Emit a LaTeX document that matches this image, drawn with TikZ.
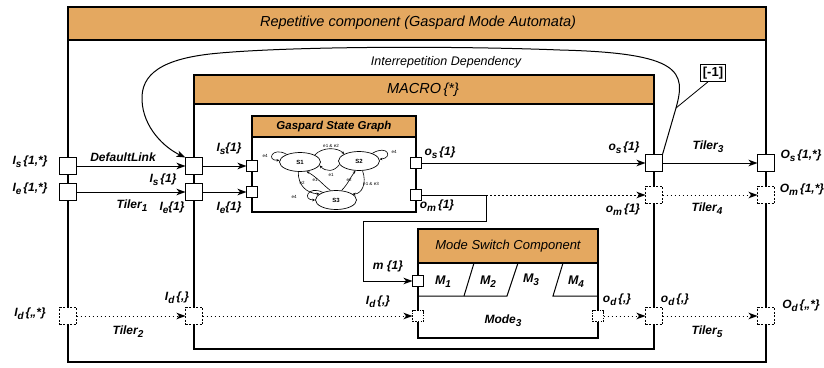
\documentclass[tikz,border=0pt]{standalone}
\usepackage{fontspec}
\setmainfont{Liberation Sans}
\usetikzlibrary{shapes.geometric,arrows.meta}
\definecolor{hdr}{RGB}{228,168,96}
\newcommand\sbs[1]{\raisebox{-0.45ex}{\fontsize{10}{10}\selectfont #1}}
\begin{document}
\begin{tikzpicture}[x=1pt,y=-1pt,
  box/.style={draw, line width=1.1pt},
  hd/.style={draw, line width=1.1pt, fill=hdr},
  bport/.style={draw, fill=white, line width=0.8pt, minimum size=17pt, inner sep=0pt, outer sep=0pt},
  bdport/.style={bport, dash pattern=on 2pt off 1.5pt},
  sport/.style={bport, minimum size=11pt},
  sdport/.style={sport, dash pattern=on 1.5pt off 1.2pt},
  arr/.style={line width=1pt, -{Stealth[length=9pt,width=6.5pt,inset=2.5pt]}},
  darr/.style={arr, dash pattern=on 1.5pt off 2.5pt},
  ln/.style={line width=1pt},
  lbl/.style={font=\fontsize{12}{14}\selectfont\bfseries\itshape, inner sep=0pt},
  mlbl/.style={font=\fontsize{12.5}{14}\selectfont\bfseries\itshape, inner sep=0pt},
  st/.style={ellipse, draw, line width=0.7pt, minimum width=41pt, minimum height=19pt, inner sep=0pt, font=\fontsize{6}{7}\selectfont\bfseries},
  sga/.style={line width=0.6pt, -{Stealth[length=3pt,width=2.5pt]}},
  tinyl/.style={font=\fontsize{4.5}{5}\selectfont, inner sep=0pt}
]
\useasboundingbox (0,0) rectangle (824,367);

% outer box
\draw[box] (68,7) rectangle (766,362);
\draw[hd] (68,7) rectangle (766,40);
\node[font=\fontsize{14.5}{16}\selectfont\itshape] (ttl) at (418,23) {Repetitive component (Gaspard Mode Automata)};

% MACRO box
\draw[box] (194,75) rectangle (654,349);
\draw[hd] (194,75) rectangle (654,104);
\node[font=\fontsize{14.5}{16}\selectfont\itshape] (mac) at (423,90) {MACRO\,\{*\}};

% Gaspard state graph
\draw[box] (252,116) rectangle (416,212);
\draw[hd] (252,116) rectangle (416,137);
\node[font=\fontsize{11.5}{13}\selectfont\bfseries\itshape] (gsg) at (334,127) {Gaspard State Graph};

% Mode switch component
\draw[box] (418,229) rectangle (598,338);
\draw[hd] (418,229) rectangle (598,263);
\node[font=\fontsize{13}{15}\selectfont\itshape] (msc) at (508,246) {Mode Switch Component};
\draw[ln] (474,263) -- (464,296);
\draw[ln] (418,296) -- (507,296) -- (518,263);
\draw[ln] (563,263) -- (553,296) -- (598,296);
\node[mlbl] (m1) at (443,282) {M\sbs{1}};
\node[mlbl] (m2) at (488,282) {M\sbs{2}};
\node[mlbl] (m3) at (531,280) {M\sbs{3}};
\node[mlbl] (m4) at (576,282) {M\sbs{4}};
\node[lbl] (mode) at (503,321) {Mode\sbs{3}};

% state graph content
\node[st] (S1) at (300,162) {S1};
\node[st] (S2) at (359,161) {S2};
\node[st] (S3) at (336,200) {S3};
\draw[sga] (S1.north east) .. controls (322,147) and (337,147) .. (S2.north west);
\draw[sga] (S2.190) .. controls (334,172) and (326,172) .. (S1.-10);
\draw[sga] (S1.-100) .. controls (298,185) and (306,193) .. (S3.160);
\draw[sga] (S3.120) .. controls (323,185) and (318,178) .. (S1.-55);
\draw[sga] (S3.60) .. controls (348,184) and (350,178) .. (S2.-110);
\draw[sga] (S2.-70) .. controls (367,183) and (362,194) .. (S3.20);
\draw[sga] (S1.150) .. controls (272,146) and (266,161) .. (S1.175);
\draw[sga] (S2.30) .. controls (388,144) and (393,158) .. (S2.5);
\draw[sga] (S3.150) .. controls (308,185) and (302,200) .. (S3.180);
\node[tinyl] at (331,146) {e1 \& e2};
\node[tinyl] at (331,175) {e1};
\node[tinyl] at (302,183) {e2};
\node[tinyl] at (315,180) {e1};
\node[tinyl] at (349,180) {e2};
\node[tinyl] at (371,184) {e1 \& e3};
\node[tinyl] at (265,156) {e4};
\node[tinyl] at (394,152) {e4};
\node[tinyl] at (294,197) {e4};

% ports
\node[bport] (oIs) at (68,166) {};
\node[bport] (oIe) at (68,192) {};
\node[bdport] (oId) at (68,316) {};
\node[bport] (MIs) at (194,166) {};
\node[bport] (MIe) at (194,192) {};
\node[bdport] (MId) at (194,316) {};
\node[sport] (GIs) at (252,166) {};
\node[sport] (GIe) at (252,192) {};
\node[sport] (Gos) at (416,163) {};
\node[sport] (Gom) at (416,195) {};
\node[bport] (Mos) at (654,163) {};
\node[bdport] (Mom) at (654,195) {};
\node[bdport] (Mod) at (654,316) {};
\node[sport] (Sm) at (418,281) {};
\node[sdport] (SId) at (418,316) {};
\node[sdport] (Sod) at (598,316) {};
\node[bport] (oOs) at (766,163) {};
\node[bdport] (oOm) at (766,195) {};
\node[bdport] (oOd) at (766,316) {};

% connectors
\draw[arr] (oIs) -- (MIs);
\draw[arr] (oIe) -- (MIe);
\draw[darr] (oId) -- (MId);
\draw[arr] (MIs) -- (GIs);
\draw[arr] (MIe) -- (GIe);
\draw[darr] (MId) -- (SId);
\draw[arr] (Gos) -- (Mos);
\coordinate (omc) at (486,195);
\draw[ln] (Gom.east) -- (omc);
\draw[darr] (omc) -- (Mom);
\draw[arr] (omc) -- (486,221) -- (363,221) -- (363,281) -- (Sm.west);
\draw[arr] (Mos) -- (oOs);
\draw[darr] (Mom) -- (oOm);
\draw[darr] (Sod) -- (Mod);
\draw[darr] (Mod) -- (oOd);

% interrepetition dependency
\coordinate (cv) at (676,108);
\draw[arr] (Mos.north east) -- (cv) .. controls (686,72) and (682,53) .. (560,50)
  .. controls (460,46) and (300,46) .. (220,53)
  .. controls (160,58) and (141,75) .. (142,100)
  .. controls (143,128) and (165,148) .. (MIs.north west);
\node[font=\fontsize{12.5}{14}\selectfont\itshape] (idep) at (446,62) {Interrepetition Dependency};
\node[draw, fill=white, line width=0.8pt, font=\fontsize{13}{15}\selectfont\bfseries, inner sep=2.5pt] (dep) at (713,73) {[-1]};
\draw[line width=0.8pt] (dep.-120) -- (cv);

% labels
\node[lbl] at (30,162) {I\sbs{s}\,\{1,*\}};
\node[lbl] at (30,189) {I\sbs{e}\,\{1,*\}};
\node[lbl] at (123,157) {DefaultLink};
\node[lbl] at (163,180) {I\sbs{s}\,\{1\}};
\node[lbl] at (132,206) {Tiler\sbs{1}};
\node[lbl] at (172,208) {I\sbs{e}\{1\}};
\node[lbl] at (229,149) {I\sbs{s}\{1\}};
\node[lbl] at (229,208) {I\sbs{e}\{1\}};
\node[lbl] at (30,314) {I\sbs{d}\,\{,,*\}};
\node[lbl] at (177,298) {I\sbs{d}\,\{,\}};
\node[lbl] at (128,332) {Tiler\sbs{2}};
\node[lbl] at (378,302) {I\sbs{d}\,\{,\}};
\node[lbl] at (388,266) {m \{1\}};
\node[lbl] at (440,153) {o\sbs{s}\,\{1\}};
\node[lbl] at (437,206) {o\sbs{m}\,\{1\}};
\node[lbl] at (624,148) {o\sbs{s}\,\{1\}};
\node[lbl] at (623,210) {o\sbs{m}\,\{1\}};
\node[lbl] at (708,147) {Tiler\sbs{3}};
\node[lbl] at (707,209) {Tiler\sbs{4}};
\node[lbl] at (801,156) {O\sbs{s}\,\{1,*\}};
\node[lbl] at (802,190) {O\sbs{m}\,\{1,*\}};
\node[lbl] at (617,300) {o\sbs{d}\,\{,\}};
\node[lbl] at (675,300) {o\sbs{d}\,\{,\}};
\node[lbl] at (707,332) {Tiler\sbs{5}};
\node[lbl] at (801,306) {O\sbs{d}\,\{,,*\}};
\end{tikzpicture}
\end{document}
